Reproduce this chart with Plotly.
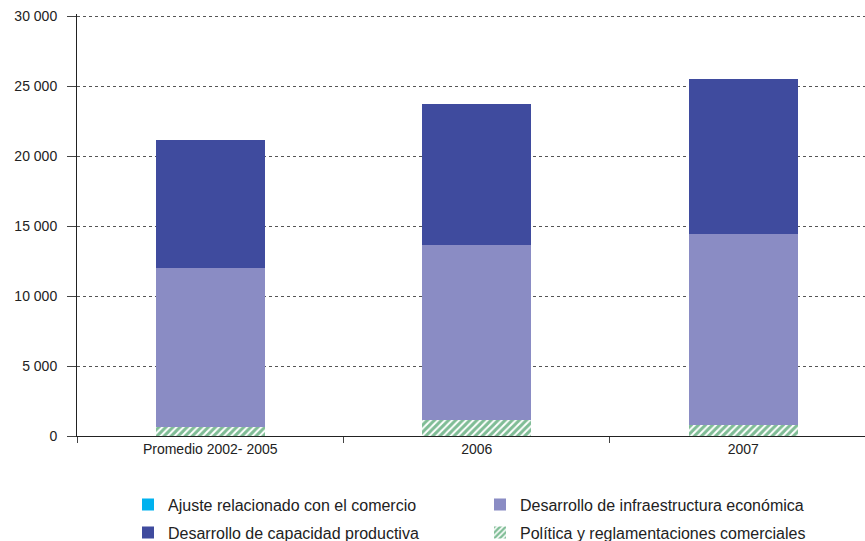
import plotly.graph_objects as go

categories = ["Promedio 2002- 2005", "2006", "2007"]
ajuste = [0, 0, 0]
politica = [650, 1140, 800]
infraestructura = [11350, 12500, 13630]
capacidad = [9140, 10070, 11070]
y_ticks = [0, 5000, 10000, 15000, 20000, 25000, 30000]

fig = go.Figure()
fig.add_trace(go.Bar(
    x=categories, y=politica, name="Política y reglamentaciones comerciales",
    marker=dict(color="white", line=dict(width=0),
                pattern=dict(shape="/", fgcolor="#007a2c", bgcolor="white", size=5, solidity=0.6)),
    legend="legend2", legendrank=2))
fig.add_trace(go.Bar(
    x=categories, y=ajuste, name="Ajuste relacionado con el comercio",
    marker=dict(color="#00b2ef", line=dict(width=0)), legend="legend", legendrank=1))
fig.add_trace(go.Bar(
    x=categories, y=infraestructura, name="Desarrollo de infraestructura económica",
    marker=dict(color="#8a8cc4", line=dict(width=0)), legend="legend", legendrank=2))
fig.add_trace(go.Bar(
    x=categories, y=capacidad, name="Desarrollo de capacidad productiva",
    marker=dict(color="#3f4b9e", line=dict(width=0)), legend="legend2", legendrank=1))

legend_common = dict(orientation="h", xref="container", yref="container",
                     x=128 / 865, xanchor="left", yanchor="top",
                     font=dict(size=16, color="#222"), entrywidth=307,
                     entrywidthmode="pixels", traceorder="normal",
                     bgcolor="rgba(0,0,0,0)")

fig.update_layout(
    barmode="stack",
    bargap=0.59,
    width=865, height=541,
    margin=dict(l=77, r=0, t=14, b=105, autoexpand=False),
    paper_bgcolor="white", plot_bgcolor="white",
    font=dict(family="Liberation Sans, Arial, sans-serif", size=14, color="#222"),
    separators=". ",
    showlegend=True,
    legend=dict(legend_common, y=1 - 487.6 / 541),
    legend2=dict(legend_common, y=1 - 515.6 / 541),
    xaxis=dict(range=[-0.5, 2.457], showline=True, linecolor="#222", linewidth=1,
               ticks="outside", tickson="boundaries", ticklen=6, tickcolor="#444",
               showgrid=False, automargin=False, tickfont=dict(size=14, color="#222")),
    yaxis=dict(range=[0, 30150], tickvals=y_ticks, tickformat=",d", showline=True,
               linecolor="#222", linewidth=1, ticks="outside", ticklen=9, tickcolor="#444",
               showgrid=True, gridcolor="#555", griddash="3px,3px", gridwidth=1,
               zeroline=False, automargin=False, ticklabelstandoff=7,
               tickfont=dict(size=14, color="#222")),
)

fig.write_html("out.html", config={"displayModeBar": False},
               post_script="document.body.style.margin='0';document.body.style.padding='0';")
